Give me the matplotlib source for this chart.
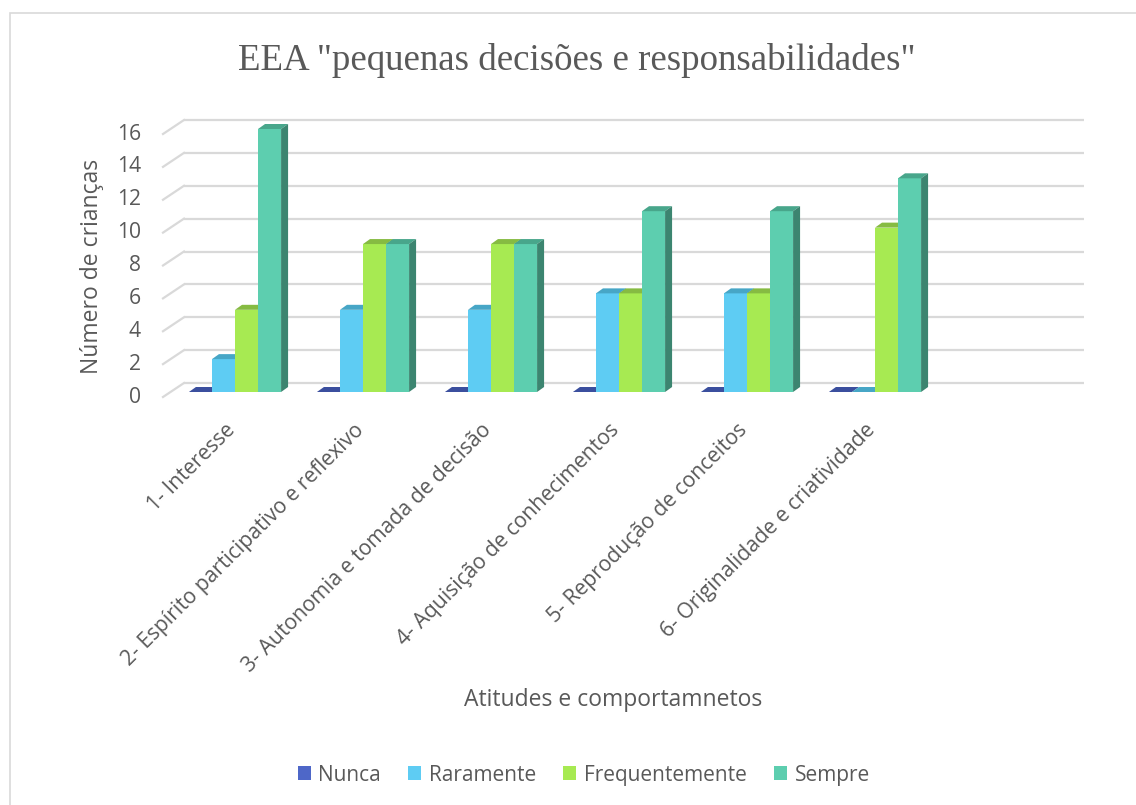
import matplotlib
matplotlib.use("Agg")
import matplotlib.pyplot as plt
from matplotlib.patches import Polygon, Rectangle
from matplotlib.transforms import offset_copy
import numpy as np

# ---------------- data ----------------
categories = ["1- Interesse",
              "2- Espírito participativo e reflexivo",
              "3- Autonomia e tomada de decisão",
              "4- Aquisição de conhecimentos",
              "5- Reprodução de conceitos",
              "6- Originalidade e criatividade"]
series_names = ["Nunca", "Raramente", "Frequentemente", "Sempre"]
nunca = [0, 0, 0, 0, 0, 0]
raramente = [2, 5, 5, 6, 6, 0]
frequentemente = [5, 9, 9, 6, 6, 10]
sempre = [16, 9, 9, 11, 11, 13]
yticks = [0, 2, 4, 6, 8, 10, 12, 14, 16]

title = 'EEA "pequenas decisões e responsabilidades"'
xlabel = "Atitudes e comportamnetos"
ylabel = "Número de crianças"

# ---------------- style ----------------
front_colors = ["#4E67C8", "#5ECCF3", "#A7EA52", "#5DCEAF"]
top_colors = ["#3B4F9E", "#47A6C6", "#86BB42", "#48A68B"]
side_colors = ["#2F3F80", "#3A8BA6", "#6E9A35", "#3C8570"]
text_color = "#595959"
grid_color = "#D9D9D9"
sans = ["Open Sans", "DejaVu Sans"]
tick_fs = 15.2
axis_fs = 16.5

W, H = 1136, 805
fig = plt.figure(figsize=(W / 100, H / 100), dpi=100)

# border
fig.patches.append(Rectangle((10 / W, -0.01), 1.2, 1 - 13 / H + 0.01,
                             transform=fig.transFigure, fill=False,
                             edgecolor=grid_color, lw=1.2))

left_px, right_px, zero_px, top_px = 171, 1067, 392, 129
ax = fig.add_axes([left_px / W, 1 - zero_px / H,
                   (right_px - left_px) / W, (zero_px - top_px) / H])
ax.set_xlim(-0.5, 6.5)
ax.set_ylim(0, 16)
ax.axis("off")


def px2data(dx, dy):
    p0 = ax.transData.transform((0, 0))
    d = ax.transData.inverted().transform(p0 + np.array([dx, dy]))
    return d[0], d[1]


xmin, xmax = ax.get_xlim()
bx, by = px2data(13, 9)     # back wall offset
fx, fy = px2data(-8, -5)    # front edge of side wall
ddx, ddy = px2data(7, 5)    # bar depth

# walls
for v in yticks:
    ax.plot([xmin + bx, xmax + bx + 0.03], [v + by, v + by], color=grid_color,
            lw=1.6, clip_on=False, zorder=1, solid_capstyle="butt")
    ax.plot([xmin + fx, xmin + bx], [v + fy, v + by], color=grid_color,
            lw=1.6, clip_on=False, zorder=1)

ylab_tr = offset_copy(ax.transData, fig, x=-30, y=-5, units="dots")
for v in yticks:
    ax.text(xmin, v, str(v), transform=ylab_tr, ha="right", va="center",
            fontsize=tick_fs, color=text_color, family=sans)

# bars
series = [nunca, raramente, frequentemente, sempre]
n = len(series)
w = 0.18
x = np.arange(len(categories))
for s, vals in enumerate(series):
    x0s = x - n * w / 2 + s * w
    z = 3 + s
    ax.bar(x0s, vals, width=w, align="edge", color=front_colors[s],
           zorder=z, clip_on=False, linewidth=0)
    for x0, v in zip(x0s, vals):
        top = Polygon([(x0, v), (x0 + w, v), (x0 + w + ddx, v + ddy),
                       (x0 + ddx, v + ddy)], closed=True,
                      facecolor=top_colors[s], edgecolor="none",
                      zorder=z, clip_on=False)
        ax.add_patch(top)
        if v > 0:
            side = Polygon([(x0 + w, 0), (x0 + w + ddx, ddy),
                            (x0 + w + ddx, v + ddy), (x0 + w, v)],
                           closed=True, facecolor=side_colors[s],
                           edgecolor="none", zorder=z, clip_on=False)
            ax.add_patch(side)

# category labels
xlab_tr = offset_copy(ax.transData, fig, x=-10, y=-28, units="dots")
for xi, lab in zip(x, categories):
    ax.text(xi, 0, lab, transform=xlab_tr, rotation=45,
            rotation_mode="anchor", ha="right", va="top",
            fontsize=tick_fs, color=text_color, family=sans)

# titles
fig.text(577 / W, 1 - 61 / H, title, ha="center", va="center",
         fontsize=26.6, color=text_color, family=["Liberation Serif"])
fig.text(613 / W, 1 - 700 / H, xlabel, ha="center", va="center",
         fontsize=axis_fs, color=text_color, family=sans)
fig.text(92 / W, 1 - 266 / H, ylabel, ha="center", va="center",
         rotation=90, fontsize=axis_fs, color=text_color, family=sans)

# legend
handles = [Rectangle((0, 0), 1, 1, facecolor=c, edgecolor="none")
           for c in front_colors]
fig.legend(handles, series_names, loc="center", ncol=4,
           bbox_to_anchor=(584 / W, 1 - 775 / H), frameon=False,
           prop={"family": sans, "size": 15}, labelcolor=text_color,
           handlelength=0.62, handleheight=0.62, handletextpad=0.38,
           columnspacing=1.3)

fig.savefig("out.png", dpi=100)
